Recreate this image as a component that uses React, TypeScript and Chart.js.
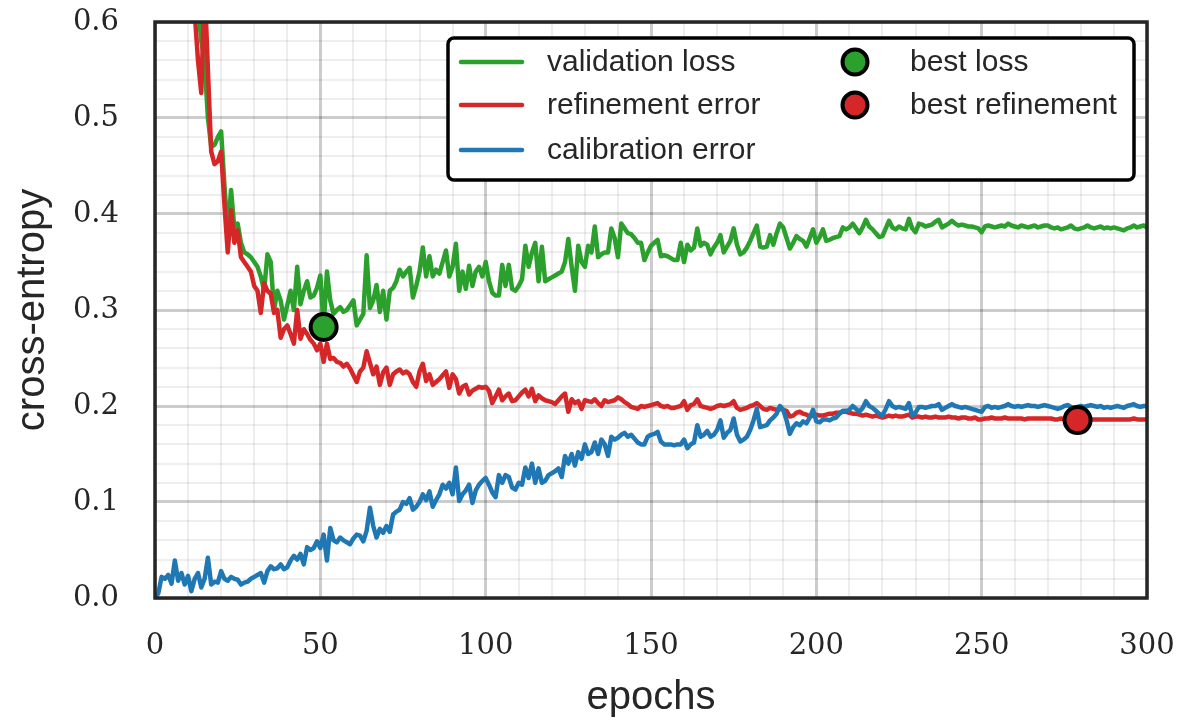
import React, { useEffect, useRef } from 'react';
import { Chart, registerables } from 'chart.js';

Chart.register(...registerables);

// ---------------- data (epoch index = array index, 0..300) ----------------
const validationLoss: number[] = [
  2.4, 1.8, 1.4, 1.18, 1.04, 0.95, 0.89, 0.84, 0.79, 0.75,
  0.72, 0.69, 0.66, 0.62, 0.58, 0.56, 0.5, 0.47, 0.472, 0.48,
  0.486, 0.43, 0.38, 0.425, 0.385, 0.39, 0.37, 0.36, 0.358, 0.355,
  0.35, 0.345, 0.335, 0.32, 0.358, 0.35, 0.3, 0.32, 0.31, 0.29,
  0.305, 0.32, 0.3, 0.345, 0.306, 0.32, 0.33, 0.313, 0.315, 0.323,
  0.336, 0.283, 0.34, 0.31, 0.296, 0.3, 0.303, 0.298, 0.3, 0.305,
  0.31, 0.284, 0.29, 0.296, 0.357, 0.302, 0.31, 0.326, 0.298, 0.32,
  0.29, 0.32, 0.323, 0.33, 0.342, 0.335, 0.34, 0.344, 0.313, 0.325,
  0.34, 0.365, 0.335, 0.356, 0.335, 0.342, 0.338, 0.35, 0.362, 0.335,
  0.345, 0.369, 0.32, 0.34, 0.322, 0.346, 0.325, 0.34, 0.345, 0.335,
  0.35, 0.33, 0.318, 0.315, 0.315, 0.347, 0.325, 0.347, 0.322, 0.32,
  0.325, 0.332, 0.367, 0.345, 0.36, 0.37, 0.33, 0.366, 0.33, 0.332,
  0.334, 0.336, 0.338, 0.34, 0.35, 0.374, 0.345, 0.32, 0.367, 0.35,
  0.345, 0.367, 0.36, 0.387, 0.355, 0.358, 0.36, 0.36, 0.385, 0.375,
  0.355, 0.39, 0.385, 0.38, 0.379, 0.375, 0.37, 0.37, 0.352, 0.36,
  0.367, 0.37, 0.373, 0.356, 0.357, 0.356, 0.354, 0.352, 0.352, 0.37,
  0.35, 0.368, 0.362, 0.365, 0.385, 0.367, 0.37, 0.368, 0.358, 0.365,
  0.37, 0.378, 0.36, 0.366, 0.372, 0.385, 0.368, 0.358, 0.36, 0.365,
  0.372, 0.38, 0.388, 0.366, 0.365, 0.366, 0.378, 0.368, 0.38, 0.39,
  0.386, 0.375, 0.364, 0.37, 0.377, 0.374, 0.372, 0.366, 0.375, 0.384,
  0.37, 0.376, 0.384, 0.372, 0.373, 0.375, 0.376, 0.377, 0.386, 0.384,
  0.386, 0.39, 0.385, 0.38, 0.386, 0.394, 0.387, 0.384, 0.38, 0.376,
  0.377, 0.385, 0.393, 0.386, 0.384, 0.387, 0.385, 0.384, 0.395, 0.385,
  0.381, 0.39, 0.389, 0.387, 0.388, 0.389, 0.392, 0.394, 0.386, 0.388,
  0.39, 0.393, 0.39, 0.388, 0.389, 0.388, 0.387, 0.387, 0.386, 0.385,
  0.381, 0.387, 0.388, 0.387, 0.386, 0.387, 0.388, 0.387, 0.39, 0.388,
  0.387, 0.386, 0.388, 0.387, 0.386, 0.387, 0.388, 0.386, 0.387, 0.388,
  0.388, 0.386, 0.385, 0.386, 0.384, 0.385, 0.386, 0.388, 0.385, 0.384,
  0.385, 0.386, 0.388, 0.386, 0.385, 0.386, 0.387, 0.385, 0.386, 0.385,
  0.386, 0.385, 0.384, 0.383, 0.385, 0.386, 0.388, 0.386, 0.387, 0.388,
  0.386,
];

const refinementError: number[] = [
  2.3, 1.7, 1.35, 1.15, 1.02, 0.93, 0.87, 0.82, 0.77, 0.73,
  0.69, 0.65, 0.61, 0.56, 0.526, 0.64, 0.55, 0.465, 0.452, 0.455,
  0.465, 0.41, 0.36, 0.404, 0.37, 0.383, 0.355, 0.35, 0.345, 0.34,
  0.325, 0.32, 0.297, 0.328, 0.32, 0.317, 0.297, 0.3, 0.271, 0.28,
  0.284, 0.275, 0.265, 0.3, 0.27, 0.28, 0.275, 0.269, 0.265, 0.258,
  0.265, 0.246, 0.265, 0.249, 0.25, 0.246, 0.245, 0.241, 0.244, 0.239,
  0.232, 0.225, 0.236, 0.24, 0.257, 0.245, 0.233, 0.241, 0.222, 0.235,
  0.24, 0.222, 0.233, 0.236, 0.238, 0.234, 0.236, 0.233, 0.225, 0.22,
  0.236, 0.244, 0.226, 0.233, 0.222, 0.225, 0.228, 0.232, 0.236, 0.219,
  0.233, 0.228, 0.213, 0.22, 0.222, 0.212, 0.216, 0.218, 0.22, 0.219,
  0.22, 0.216, 0.203, 0.21, 0.217, 0.206, 0.21, 0.213, 0.205, 0.206,
  0.21, 0.214, 0.217, 0.21, 0.218, 0.205, 0.211, 0.208, 0.206, 0.205,
  0.204, 0.202, 0.206, 0.21, 0.213, 0.194, 0.207, 0.203, 0.205, 0.197,
  0.206, 0.205, 0.204, 0.207, 0.203, 0.2, 0.206, 0.204, 0.205, 0.206,
  0.209, 0.207, 0.204, 0.202, 0.199, 0.198, 0.197, 0.2, 0.199, 0.2,
  0.201, 0.202, 0.203, 0.2, 0.199, 0.2, 0.198, 0.198, 0.199, 0.2,
  0.205, 0.196, 0.201, 0.202, 0.207, 0.2, 0.199, 0.198, 0.197, 0.198,
  0.2, 0.201, 0.2, 0.201, 0.202, 0.205, 0.198, 0.196, 0.197, 0.198,
  0.2, 0.201, 0.203, 0.2, 0.197, 0.196, 0.198, 0.197, 0.196, 0.197,
  0.196, 0.195, 0.189, 0.19, 0.193, 0.194, 0.192, 0.191, 0.189, 0.19,
  0.191, 0.19, 0.19, 0.191, 0.192, 0.192, 0.193, 0.193, 0.194, 0.194,
  0.193, 0.192, 0.192, 0.191, 0.19, 0.191, 0.19, 0.189, 0.19, 0.189,
  0.188, 0.189, 0.19, 0.189, 0.19, 0.189, 0.189, 0.19, 0.191, 0.188,
  0.189, 0.189, 0.188, 0.189, 0.188, 0.188, 0.189, 0.188, 0.188, 0.188,
  0.189, 0.188, 0.188, 0.187, 0.188, 0.188, 0.187, 0.187, 0.188, 0.186,
  0.186, 0.187, 0.187, 0.188, 0.187, 0.187, 0.187, 0.188, 0.187, 0.187,
  0.187, 0.187, 0.187, 0.186, 0.187, 0.187, 0.187, 0.187, 0.187, 0.187,
  0.187, 0.187, 0.186, 0.186, 0.187, 0.186, 0.186, 0.186, 0.186, 0.1853,
  0.186, 0.186, 0.186, 0.186, 0.186, 0.186, 0.186, 0.186, 0.186, 0.186,
  0.186, 0.186, 0.186, 0.186, 0.186, 0.186, 0.187, 0.186, 0.186, 0.186,
  0.186,
];

const calibrationError: number[] = [
  0.0, 0.005, 0.022, 0.02, 0.024, 0.015, 0.039, 0.018, 0.026, 0.014,
  0.023, 0.007, 0.02, 0.026, 0.011, 0.02, 0.042, 0.014, 0.017, 0.016,
  0.028, 0.02, 0.018, 0.022, 0.02, 0.019, 0.014, 0.016, 0.017, 0.02,
  0.022, 0.024, 0.026, 0.016, 0.028, 0.033, 0.03, 0.031, 0.035, 0.03,
  0.032, 0.039, 0.044, 0.04, 0.046, 0.035, 0.053, 0.05, 0.052, 0.059,
  0.052, 0.066, 0.039, 0.073, 0.06, 0.058, 0.063, 0.06, 0.058, 0.056,
  0.062, 0.066, 0.065, 0.059, 0.07, 0.094, 0.075, 0.063, 0.072, 0.068,
  0.075, 0.069, 0.087, 0.09, 0.092, 0.1, 0.098, 0.104, 0.092, 0.095,
  0.1, 0.108, 0.102, 0.111, 0.095, 0.102, 0.108, 0.118, 0.114, 0.12,
  0.108, 0.136, 0.101, 0.108, 0.112, 0.118, 0.099, 0.112, 0.118, 0.122,
  0.125, 0.118, 0.11, 0.105, 0.128, 0.12, 0.128, 0.126, 0.115, 0.113,
  0.12, 0.118, 0.136, 0.125, 0.14, 0.12, 0.135, 0.12, 0.122, 0.128,
  0.13, 0.132, 0.135, 0.126, 0.148, 0.14, 0.15, 0.138, 0.152, 0.145,
  0.16, 0.15, 0.152, 0.162, 0.15, 0.165, 0.16, 0.148, 0.168, 0.165,
  0.167, 0.17, 0.172, 0.168, 0.17, 0.166, 0.162, 0.16, 0.16, 0.168,
  0.17, 0.171, 0.173, 0.163, 0.16, 0.16, 0.16, 0.159, 0.16, 0.16,
  0.165, 0.156, 0.16, 0.162, 0.18, 0.168, 0.17, 0.174, 0.168, 0.17,
  0.175, 0.185, 0.167, 0.172, 0.175, 0.187, 0.17, 0.163, 0.165, 0.168,
  0.175, 0.185, 0.197, 0.178, 0.179, 0.18, 0.185, 0.188, 0.192, 0.2,
  0.196, 0.185, 0.171, 0.178, 0.182, 0.18, 0.184, 0.182, 0.188, 0.196,
  0.184, 0.183, 0.186, 0.186, 0.185, 0.187, 0.188, 0.192, 0.195, 0.195,
  0.196, 0.2, 0.197, 0.194, 0.198, 0.205, 0.2, 0.198, 0.195, 0.192,
  0.19, 0.197, 0.205, 0.2, 0.198, 0.199, 0.198, 0.197, 0.203, 0.19,
  0.193, 0.199, 0.199, 0.198, 0.199, 0.2, 0.2, 0.202, 0.196, 0.198,
  0.2, 0.202, 0.2, 0.199, 0.198, 0.199, 0.198, 0.197, 0.196, 0.195,
  0.194, 0.199, 0.2, 0.198, 0.199, 0.198, 0.199, 0.2, 0.202, 0.2,
  0.199, 0.2, 0.199, 0.2, 0.201, 0.2, 0.2, 0.199, 0.2, 0.201,
  0.2, 0.199, 0.198, 0.197, 0.198, 0.2, 0.201, 0.199, 0.197, 0.199,
  0.2, 0.199, 0.2, 0.201, 0.2, 0.199, 0.2, 0.198, 0.199, 0.198,
  0.199, 0.2, 0.199, 0.198, 0.2, 0.201, 0.202, 0.2, 0.199, 0.2,
  0.2,
];

const bestLoss = { epoch: 51, value: 0.2823 };
const bestRefinement = { epoch: 279, value: 0.1853 };

const X_MAX = 300;
const Y_MAX = 0.6;
const X_MAJOR = 50;
const X_MINOR = 10;
const Y_MAJOR = 0.1;
const Y_MINOR = 0.02;

// ---------------- styles ----------------
const GREEN = '#2ca02c';
const RED = '#d62728';
const BLUE = '#1f77b4';
const TEXT = '#262626';
const SANS = '"Liberation Sans", Arial, sans-serif';
const SERIF = '"DejaVu Serif", serif';

const toPoints = (arr: number[]) => arr.map((v, i) => ({ x: i, y: v }));

const isMajorY = (v: number) => Math.abs(v / Y_MAJOR - Math.round(v / Y_MAJOR)) < 1e-6;
const isMajorX = (v: number) => Math.abs(v % X_MAJOR) < 1e-6;

const zeroPadding = (s: any) => {
  s.paddingTop = 0;
  s.paddingBottom = 0;
  s.paddingLeft = 0;
  s.paddingRight = 0;
};

const framePlugin = {
  id: 'frame',
  afterDatasetsDraw(chart: any) {
    const { ctx, chartArea: a } = chart;
    ctx.save();
    ctx.strokeStyle = TEXT;
    ctx.lineWidth = 3.5;
    ctx.strokeRect(a.left, a.top, a.right - a.left, a.bottom - a.top);
    ctx.restore();
  },
};

const legendPlugin = {
  id: 'boxLegend',
  afterDraw(chart: any) {
    const { ctx, chartArea: a } = chart;
    const w = 686;
    const h = 142;
    const x0 = a.right - 699;
    const y0 = a.top + 16;
    ctx.save();
    ctx.beginPath();
    ctx.roundRect(x0, y0, w, h, 6);
    ctx.fillStyle = '#ffffff';
    ctx.fill();
    ctx.lineWidth = 3.5;
    ctx.strokeStyle = '#000000';
    ctx.stroke();

    ctx.font = `30px ${SANS}`;
    ctx.fillStyle = TEXT;
    ctx.textBaseline = 'middle';
    ctx.textAlign = 'left';

    const lines = [
      { label: 'validation loss', color: GREEN, y: y0 + 24 },
      { label: 'refinement error', color: RED, y: y0 + 67 },
      { label: 'calibration error', color: BLUE, y: y0 + 112 },
    ];
    lines.forEach((l) => {
      ctx.beginPath();
      ctx.strokeStyle = l.color;
      ctx.lineWidth = 4.5;
      ctx.lineCap = 'round';
      ctx.moveTo(x0 + 13, l.y);
      ctx.lineTo(x0 + 74, l.y);
      ctx.stroke();
      ctx.fillStyle = TEXT;
      ctx.fillText(l.label, x0 + 99, l.y + 1);
    });

    const marks = [
      { label: 'best loss', color: GREEN, y: y0 + 24 },
      { label: 'best refinement', color: RED, y: y0 + 67 },
    ];
    marks.forEach((m) => {
      ctx.beginPath();
      ctx.arc(x0 + 407, m.y, 12.5, 0, Math.PI * 2);
      ctx.fillStyle = m.color;
      ctx.fill();
      ctx.lineWidth = 4;
      ctx.strokeStyle = '#000000';
      ctx.stroke();
      ctx.fillStyle = TEXT;
      ctx.fillText(m.label, x0 + 462, m.y + 1);
    });
    ctx.restore();
  },
};

export default function App() {
  const canvasRef = useRef<HTMLCanvasElement | null>(null);

  useEffect(() => {
    const canvas = canvasRef.current;
    if (!canvas) return;
    const lineCommon = {
      type: 'line' as const,
      pointRadius: 0,
      borderWidth: 4.5,
      tension: 0,
      fill: false,
      borderJoinStyle: 'round' as const,
      borderCapStyle: 'round' as const,
    };
    const chart = new Chart(canvas, {
      type: 'line',
      data: {
        datasets: [
          {
            label: 'best loss',
            type: 'line',
            data: [{ x: bestLoss.epoch, y: bestLoss.value }],
            showLine: false,
            pointRadius: 13,
            pointBorderWidth: 4,
            pointBackgroundColor: GREEN,
            pointBorderColor: '#000',
            order: 0,
          },
          {
            label: 'best refinement',
            type: 'line',
            data: [{ x: bestRefinement.epoch, y: bestRefinement.value }],
            showLine: false,
            pointRadius: 13,
            pointBorderWidth: 4,
            pointBackgroundColor: RED,
            pointBorderColor: '#000',
            order: 0,
          },
          { ...lineCommon, label: 'calibration error', data: toPoints(calibrationError), borderColor: BLUE, order: 1 },
          { ...lineCommon, label: 'refinement error', data: toPoints(refinementError), borderColor: RED, order: 2 },
          { ...lineCommon, label: 'validation loss', data: toPoints(validationLoss), borderColor: GREEN, order: 3 },
        ] as any,
      },
      options: {
        animation: false,
        responsive: true,
        maintainAspectRatio: false,
        layout: { autoPadding: false, padding: { left: 0, top: 22, right: 32, bottom: 0 } },
        plugins: { legend: { display: false }, tooltip: { enabled: false } },
        scales: {
          x: {
            type: 'linear',
            min: 0,
            max: X_MAX,
            border: { display: false },
            grid: {
              drawTicks: false,
              color: (c: any) => (isMajorX(c.tick.value) ? 'rgba(0,0,0,0.2)' : 'rgba(0,0,0,0.065)'),
              lineWidth: (c: any) => (isMajorX(c.tick.value) ? 3 : 2),
            },
            ticks: {
              stepSize: X_MINOR,
              autoSkip: false,
              maxRotation: 0,
              padding: 31,
              color: TEXT,
              font: { family: SERIF, size: 29 },
              callback: (v: any) => (isMajorX(Number(v)) ? String(v) : ''),
            },
            title: {
              display: true,
              text: 'epochs',
              color: TEXT,
              font: { family: SANS, size: 40, lineHeight: 1 },
              padding: { top: 1, bottom: 0 },
            },
            afterFit: (s: any) => {
              s.height = 120;
              zeroPadding(s);
            },
          },
          y: {
            type: 'linear',
            min: 0,
            max: Y_MAX,
            border: { display: false },
            grid: {
              drawTicks: false,
              color: (c: any) => (isMajorY(c.tick.value) ? 'rgba(0,0,0,0.2)' : 'rgba(0,0,0,0.065)'),
              lineWidth: (c: any) => (isMajorY(c.tick.value) ? 3 : 2),
            },
            ticks: {
              stepSize: Y_MINOR,
              autoSkip: false,
              padding: 36,
              color: TEXT,
              font: { family: SERIF, size: 29 },
              callback: (v: any) => (isMajorY(Number(v)) ? Number(v).toFixed(1) : ''),
            },
            title: {
              display: true,
              text: 'cross-entropy',
              color: TEXT,
              font: { family: SANS, size: 40, lineHeight: 1 },
              padding: { top: 13, bottom: 0 },
            },
            afterFit: (s: any) => {
              s.width = 155;
              zeroPadding(s);
            },
          },
        },
      } as any,
      plugins: [framePlugin, legendPlugin],
    });
    return () => chart.destroy();
  }, []);

  return (
    <div style={{ position: 'fixed', left: 0, top: 0, width: 1179, height: 718, background: '#fff' }}>
      <canvas ref={canvasRef} />
    </div>
  );
}
